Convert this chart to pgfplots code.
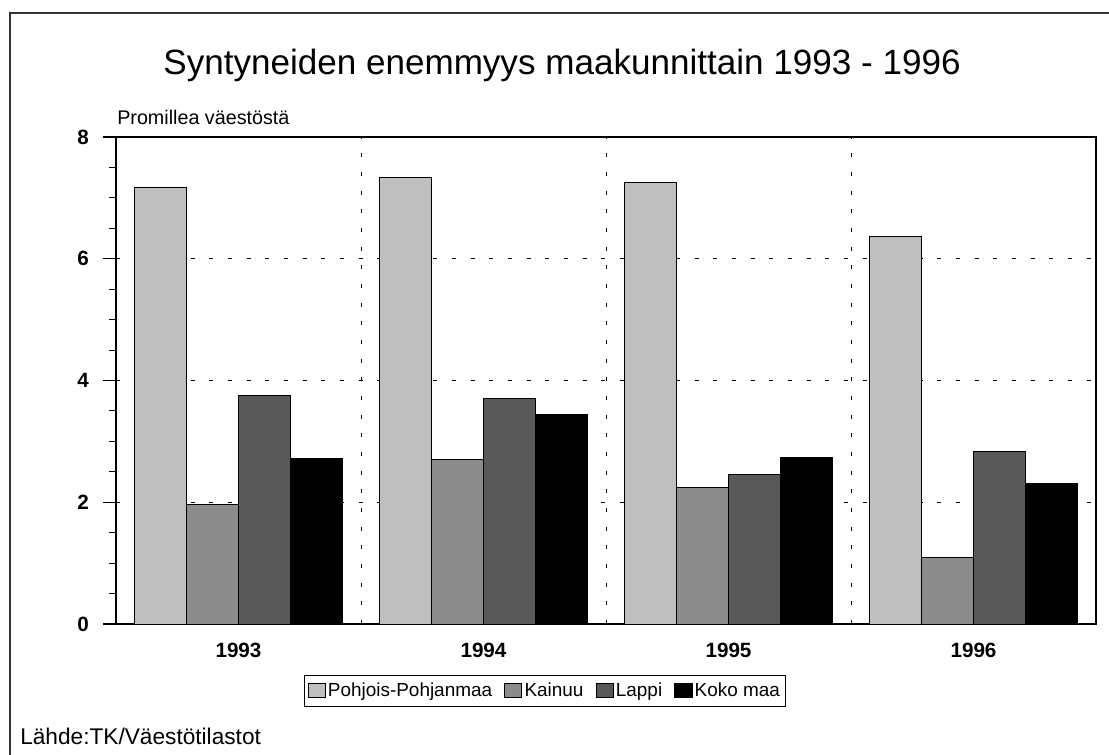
\documentclass[border=0pt]{standalone}
\usepackage{pgfplots}
\pgfplotsset{compat=1.18}
\usepackage{fontspec}
\setmainfont{Liberation Sans}
\begin{document}
\begin{tikzpicture}
\useasboundingbox (0,0) rectangle (831.75pt,566.25pt);
\draw[line width=1pt, black!80] (7.5pt,0) -- (7.5pt,556.5pt) -- (831.75pt,556.5pt);
\node[font=\fontsize{26.3}{30}\selectfont] at (421.5pt,517.5pt) {Syntyneiden enemmyys maakunnittain 1993 - 1996};
\node[anchor=base west, inner sep=0pt, font=\fontsize{14.8}{16}\selectfont] at (87.75pt,472.5pt) {Promillea väestöstä};
\node[anchor=base west, inner sep=0pt, font=\fontsize{17}{18}\selectfont] at (15pt,7.5pt) {Lähde:TK/Väestötilastot};
\begin{axis}[
  at={(87pt,98.25pt)}, anchor=south west,
  scale only axis, width=735pt, height=365.25pt,
  ybar=0pt, bar width=39pt,
  xmin=-0.5, xmax=3.5, ymin=0, ymax=8,
  axis line style={line width=0.8pt},
  xtick={0,1,2,3}, xticklabels={1993,1994,1995,1996},
  xtick align=inside,
  x tick style={draw=none},
  minor xtick={0.5,1.5,2.5}, xminorgrids,
  ytick={0,2,4,6,8}, yticklabels={0,2,4,6,8},
  minor ytick={0.5,1,1.5,2.5,3,3.5,4.5,5,5.5,6.5,7,7.5},
  ymajorgrids,
  ytick align=outside, ytick pos=left,
  y tick style={black, line width=0.8pt},
  major tick length=9.75pt, minor tick length=5.25pt,
  major grid style={black, line width=0.7pt, dash pattern=on 3pt off 11pt},
  minor grid style={black, line width=0.7pt, dash pattern=on 3pt off 11pt},
  ticklabel style={font=\fontsize{15.5}{18}\selectfont\bfseries},
  xticklabel style={yshift=-11pt},
  yticklabel style={xshift=-7pt},
  legend columns=4,
  legend style={at={(0.4378,-0.1376)}, anchor=center, draw=black, line width=0.7pt,
    font=\fontsize{14.2}{16}\selectfont, inner xsep=2pt, inner ysep=4pt,
    /tikz/every even column/.append style={column sep=7pt}},
  legend image code/.code={\draw[#1, draw=black, line width=0.3pt] (0pt,-4.5pt) rectangle (13pt,5.5pt);},
]
\addplot[fill=black!25, draw=black, line width=0.5pt] coordinates {(0,7.18) (1,7.34) (2,7.26) (3,6.36)};
\addplot[fill=black!45, draw=black, line width=0.5pt] coordinates {(0,1.97) (1,2.70) (2,2.25) (3,1.10)};
\addplot[fill=black!65, draw=black, line width=0.5pt] coordinates {(0,3.76) (1,3.70) (2,2.46) (3,2.83)};
\addplot[fill=black, draw=black, line width=0.5pt] coordinates {(0,2.72) (1,3.44) (2,2.73) (3,2.31)};
\legend{Pohjois-Pohjanmaa,Kainuu,Lappi,Koko maa}
\end{axis}
\end{tikzpicture}
\end{document}
